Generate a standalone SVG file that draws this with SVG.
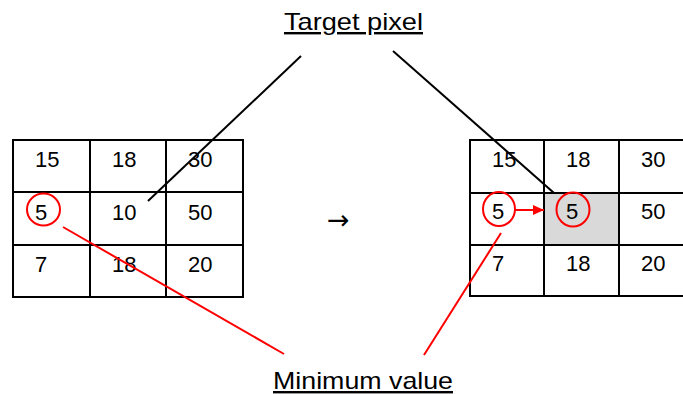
<svg xmlns="http://www.w3.org/2000/svg" width="683" height="394" viewBox="0 0 683 394">
<defs>
<style>
.grid{fill:none;stroke:#000;stroke-width:2}
.num{font-family:"Liberation Sans",Arial,sans-serif;font-size:22px;fill:#000}
.lbl{font-family:"Liberation Sans",Arial,sans-serif;font-size:24px;fill:#000;text-decoration:underline}
.blk{stroke:#000;stroke-width:2;fill:none}
.red{stroke:#ff0000;stroke-width:2;fill:none}
</style>
<marker id="ah" markerWidth="12" markerHeight="12" refX="11" refY="5" orient="auto" markerUnits="userSpaceOnUse">
<path d="M0,0 L11,5 L0,10 Z" fill="#ff0000"/>
</marker>
</defs>
<rect width="683" height="394" fill="#fff"/>
<g id="left-grid">
<rect class="grid" x="13" y="140" width="230" height="157"/>
<line class="grid" x1="90" y1="140" x2="90" y2="297"/>
<line class="grid" x1="166" y1="140" x2="166" y2="297"/>
<line class="grid" x1="13" y1="192" x2="243" y2="192"/>
<line class="grid" x1="13" y1="245" x2="243" y2="245"/>
<text class="num" x="35" y="167">15</text>
<text class="num" x="112" y="167">18</text>
<text class="num" x="188" y="167">30</text>
<text class="num" x="35" y="220">5</text>
<text class="num" x="112" y="220">10</text>
<text class="num" x="188" y="220">50</text>
<text class="num" x="35" y="272">7</text>
<text class="num" x="112" y="272">18</text>
<text class="num" x="188" y="272">20</text>
<ellipse class="red" cx="43.5" cy="209.5" rx="16.5" ry="16"/>
</g>
<g id="arrow-sign">
<text x="327" y="229" style="font-family:'DejaVu Sans',sans-serif;font-size:27px;fill:#000">→</text>
</g>
<g id="right-grid">
<rect x="544" y="193" width="75" height="52" fill="#d9d9d9"/>
<rect class="grid" x="470" y="140" width="225" height="156"/>
<line class="grid" x1="544" y1="140" x2="544" y2="296"/>
<line class="grid" x1="619" y1="140" x2="619" y2="296"/>
<line class="grid" x1="470" y1="193" x2="695" y2="193"/>
<line class="grid" x1="470" y1="245" x2="695" y2="245"/>
<text class="num" x="492" y="167">15</text>
<text class="num" x="566" y="167">18</text>
<text class="num" x="641" y="167">30</text>
<text class="num" x="492" y="219">5</text>
<text class="num" x="566" y="219">5</text>
<text class="num" x="641" y="219">50</text>
<text class="num" x="492" y="271">7</text>
<text class="num" x="566" y="271">18</text>
<text class="num" x="641" y="271">20</text>
<ellipse class="red" cx="499" cy="209" rx="16" ry="17"/>
<ellipse class="red" cx="573" cy="209.5" rx="16.5" ry="17"/>
</g>
<g id="label-target">
<text class="lbl" x="284" y="30" textLength="139" lengthAdjust="spacingAndGlyphs">Target pixel</text>
</g>
<g id="label-minimum">
<text class="lbl" x="273" y="389" textLength="180" lengthAdjust="spacingAndGlyphs">Minimum value</text>
</g>
<g id="connectors">
<line class="blk" x1="301" y1="56" x2="148" y2="201"/>
<line class="blk" x1="393" y1="51" x2="554" y2="193"/>
<line class="red" x1="63" y1="227" x2="284" y2="354"/>
<line class="red" x1="501" y1="233" x2="424" y2="355"/>
<line class="red" x1="515" y1="210" x2="544" y2="210" marker-end="url(#ah)"/>
</g>
</svg>
